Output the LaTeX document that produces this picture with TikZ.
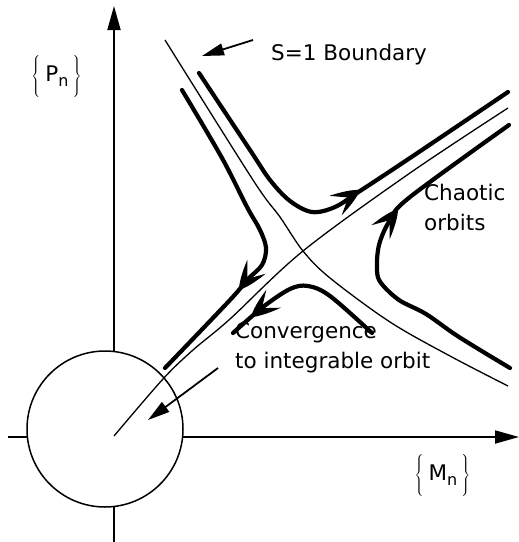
\documentclass[tikz,border=0pt]{standalone}
\usepackage{fontspec}
\setmainfont{DejaVu Sans}
\usetikzlibrary{arrows.meta}
\newcommand\orbtip[2]{\fill[shift={#1}, rotate=#2] (0pt,0pt) .. controls (-6pt,4.5pt) and (-17pt,8.5pt) .. (-29pt,11.5pt) -- (-14pt,0pt) -- (-29pt,-11.5pt) .. controls (-17pt,-8.5pt) and (-6pt,-4.5pt) .. cycle;}
\newcommand\bigbrace[1]{$\left#1\rule[-17pt]{0pt}{40pt}\right.$}
\begin{document}
\begin{tikzpicture}[x=1pt,y=-1pt,
  axis/.style={line width=1.8pt, -{Triangle[length=24pt,width=13pt]}},
  bound/.style={line width=1.3pt},
  orbit/.style={line width=4.2pt, line cap=round},
  pointer/.style={line width=1.8pt, -{Triangle[length=22pt,width=12pt]}},
  lbl/.style={font=\fontsize{21.5}{30}\selectfont, inner sep=0pt, align=left}
]
\useasboundingbox (0,0) rectangle (519,542);

% axes
\coordinate (ybot) at (114,542);
\coordinate (ytop) at (114,6);
\coordinate (xleft) at (8,437);
\coordinate (xright) at (519,437);
\draw[axis] (ybot) -- (ytop);
\draw[axis] (xleft) -- (xright);

% circle around origin
\node[draw, line width=1.5pt, fill=white, circle, minimum size=156pt, inner sep=0pt] (disk) at (105,429) {};

% S=1 boundary (thin curves)
\draw[bound] plot[smooth, tension=0.55] coordinates {(165,40) (253,180) (280,217) (303,251) (330,278) (390,322) (450,356) (508,386)};
\draw[bound] plot[smooth, tension=0.55] coordinates {(114,436) (163,379) (193,350) (230,319) (303,251) (410,173) (508,108)};

% orbits
\draw[orbit] plot[smooth, tension=0.55] coordinates {(199,73) (250,150) (270,180) (290,201) (312,212) (335,207) (360,191) (410,158) (508,92)};
\draw[orbit] plot[smooth, tension=0.55] coordinates {(182,90) (222,158) (247,207) (260,230) (266,248) (262,265) (247,280) (230,300) (165,368)};
\draw[orbit] plot[smooth, tension=0.55] coordinates {(372,333) (330,296) (308,286) (290,289) (263,307) (233,333)};
\draw[orbit] plot[smooth, tension=0.55] coordinates {(510,368) (459,337) (426,314) (399,300) (381,283) (377,270) (379,245) (390,220) (410,197) (509,125)};

% arrowheads on orbits
\orbtip{(360,190)}{32.4}
\orbtip{(239,290)}{-127}
\orbtip{(251,317)}{-141}
\orbtip{(398,209)}{53}

% labels
\node[lbl, anchor=base west] (sb) at (271,60) {S=1 Boundary};
\coordinate (sbtail) at (253,40);
\coordinate (sbtip) at (202,56);
\draw[pointer] (sbtail) -- (sbtip);

\node[lbl, anchor=base west] (chaos) at (424,230) {Chaotic\\orbits};

\node[lbl, anchor=base west] (conv) at (235,368) {Convergence\\to integrable orbit};
\coordinate (cvtail) at (218,368);
\coordinate (cvtip) at (148,420);
\draw[pointer] (cvtail) -- (cvtip);

\node[lbl] (pn) at (57,77) {\bigbrace\{\hspace{4pt}P\raisebox{-5pt}{\fontsize{16}{16}\selectfont n}\hspace{4pt}\bigbrace\}};
\node[lbl] (mn) at (443,476) {\bigbrace\{\hspace{4pt}M\raisebox{-5pt}{\fontsize{16}{16}\selectfont n}\hspace{4pt}\bigbrace\}};
\end{tikzpicture}
\end{document}
